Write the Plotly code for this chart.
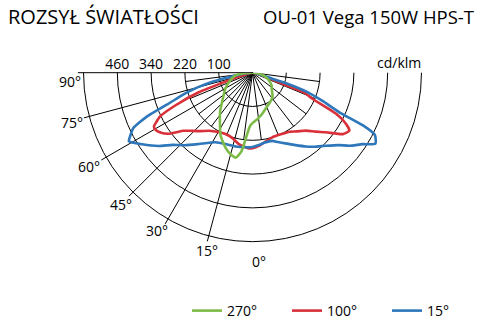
import plotly.graph_objects as go

# ---------------- data ----------------
ring_values = [100, 220, 340, 460, 580]
ring_labels = ["100", "220", "340", "460"]
major_angles = [-90, -75, -60, -45, -30, -15, 0, 15, 30, 45, 60, 75, 90]
minor_angles = [-82.5, -67.5, -52.5, -37.5, -22.5, -7.5, 7.5, 22.5, 37.5, 52.5, 67.5, 82.5]
minor_reach = 220
label_texts = ["90°", "75°", "60°", "45°", "30°", "15°", "0°"]

# C = 15°
blue_theta = [-90, -85, -80, -77.5, -75, -72.5, -70, -67.5, -65, -62.5, -61, -57, -52, -48, -43, -37, -28, -21, -13, -5, 0,
              5, 10, 16, 20, 25, 30, 36, 40, 45, 50, 53, 57, 60, 63, 64.5, 65.5, 68, 70.5, 72.5, 74, 80, 85, 90]
blue_val = [-20, 9, 51, 123, 184, 237, 292, 385, 448, 470, 482, 447, 403, 363, 332, 297, 260, 251, 249, 246, 244,
            238, 232, 232, 242, 257, 276, 304, 323, 347, 380, 411, 446, 484, 468, 415, 319, 248, 187, 105, 29, 0, -10, -20]

# C = 100°
red_theta = [-90, -80, -75, -72, -70, -67, -64.6, -63, -61.5, -59.6, -57, -54, -50, -47.7, -42, -37, -30, -23.7, -17, -10.8, -2.7, 0,
             5, 10, 17, 25, 32, 37, 42.7, 47, 51, 55.8, 59.1, 61.3, 63.8, 66.5, 69, 69.7, 72, 76, 90]
red_val = [-20, -6, 16, 68, 183, 278, 345, 362, 378, 380, 370, 349, 301, 286, 259, 238, 223, 218, 223, 238, 249, 248,
           241, 230, 220, 221, 227, 241, 260, 287, 316, 368, 381, 359, 311, 212, 176, 94, 34, 1, -20]

# C = 270°
green_theta = [-90, -85, -80, -70, -60, -50, -40, -32, -27, -20, -15, -11, -8, -6, -4, -2, 0,
               5, 10, 15, 20, 30, 40, 50, 56, 65, 75, 85, 90]
green_val = [-20, 16, 44, 66, 91, 116, 159, 198, 230, 262, 280, 287, 262, 219, 184, 166, 159,
             148, 137, 126, 116, 103, 91, 69, 62, 44, 23, -2, -20]

series = [
    ("100°", red_theta, red_val, "#D9303A", 2),
    ("15°", blue_theta, blue_val, "#2D77BA", 3),
    ("270°", green_theta, green_val, "#7DBB48", 1),
]

# ---------------- layout-only placement of the angle labels (px in the 501x327 page) ----------------
label_px_x = [70, 71.5, 89, 120.5, 156.5, 207, 259]
label_px_y = [81, 122.5, 166, 204.5, 230, 250.5, 261.5]
W, H = 501, 327

FONT = "Open Sans"
R_MIN, R_MAX = -20, 600
fig = go.Figure()

# minor spokes (near the centre only)
sp_r, sp_t = [], []
for a in minor_angles:
    sp_r += [R_MIN, minor_reach, None]
    sp_t += [a, a, None]
fig.add_trace(go.Scatterpolar(r=sp_r, theta=sp_t, mode="lines", line=dict(color="black", width=1),
                              showlegend=False, hoverinfo="skip", connectgaps=False))

for name, th, val, col, rank in series:
    fig.add_trace(go.Scatterpolar(r=val, theta=th, mode="lines", name=name,
                                  line=dict(color=col, width=2.6, shape="spline", smoothing=0.5),
                                  legendrank=rank))

# ring value labels along the left horizontal
fig.add_trace(go.Scatterpolar(r=ring_values[:len(ring_labels)], theta=[-90] * len(ring_labels), mode="text",
                              text=ring_labels, textposition="top center",
                              textfont=dict(family=FONT, size=14, color="black"),
                              showlegend=False, hoverinfo="skip", cliponaxis=False))

annotations = [
    dict(text="ROZSYŁ ŚWIATŁOŚCI", x=6 / W, y=1 - 16.5 / H, xref="paper", yref="paper",
         xanchor="left", yanchor="middle", showarrow=False, font=dict(family=FONT, size=20)),
    dict(text="OU-01 Vega 150W HPS-T", x=476 / W, y=1 - 16.5 / H, xref="paper", yref="paper",
         xanchor="right", yanchor="middle", showarrow=False, font=dict(family=FONT, size=18.5)),
    dict(text="cd/klm", x=423 / W, y=1 - 63 / H, xref="paper", yref="paper",
         xanchor="right", yanchor="middle", showarrow=False, font=dict(family=FONT, size=14)),
]
for t, px, py in zip(label_texts, label_px_x, label_px_y):
    annotations.append(dict(text=t, x=px / W, y=1 - py / H, xref="paper", yref="paper",
                            xanchor="center", yanchor="middle", showarrow=False,
                            font=dict(family=FONT, size=14)))

fig.update_layout(
    width=W, height=H,
    margin=dict(l=0, r=0, t=0, b=0),
    paper_bgcolor="white",
    font=dict(family=FONT, color="black", size=14),
    polar=dict(
        domain=dict(x=[77.9 / W, 427.1 / W], y=[1 - 247.3 / H, 1 - 72.7 / H]),
        sector=[180, 360],
        bgcolor="white",
        radialaxis=dict(range=[R_MIN, R_MAX], tickvals=ring_values, showticklabels=False,
                        showgrid=True, gridcolor="black", gridwidth=1,
                        showline=False, ticks="", angle=180),
        angularaxis=dict(rotation=-90, direction="counterclockwise", thetaunit="degrees",
                         tickvals=[a % 360 for a in major_angles], showticklabels=False, ticks="",
                         showgrid=True, gridcolor="black", gridwidth=1, showline=False),
    ),
    showlegend=True,
    legend=dict(orientation="h", x=187 / W, y=1 - 311 / H, xanchor="left", yanchor="middle",
                font=dict(family=FONT, size=14), traceorder="normal",
                entrywidth=55, entrywidthmode="pixels", bgcolor="rgba(0,0,0,0)"),
    annotations=annotations,
)

fig.write_html("out.html")
